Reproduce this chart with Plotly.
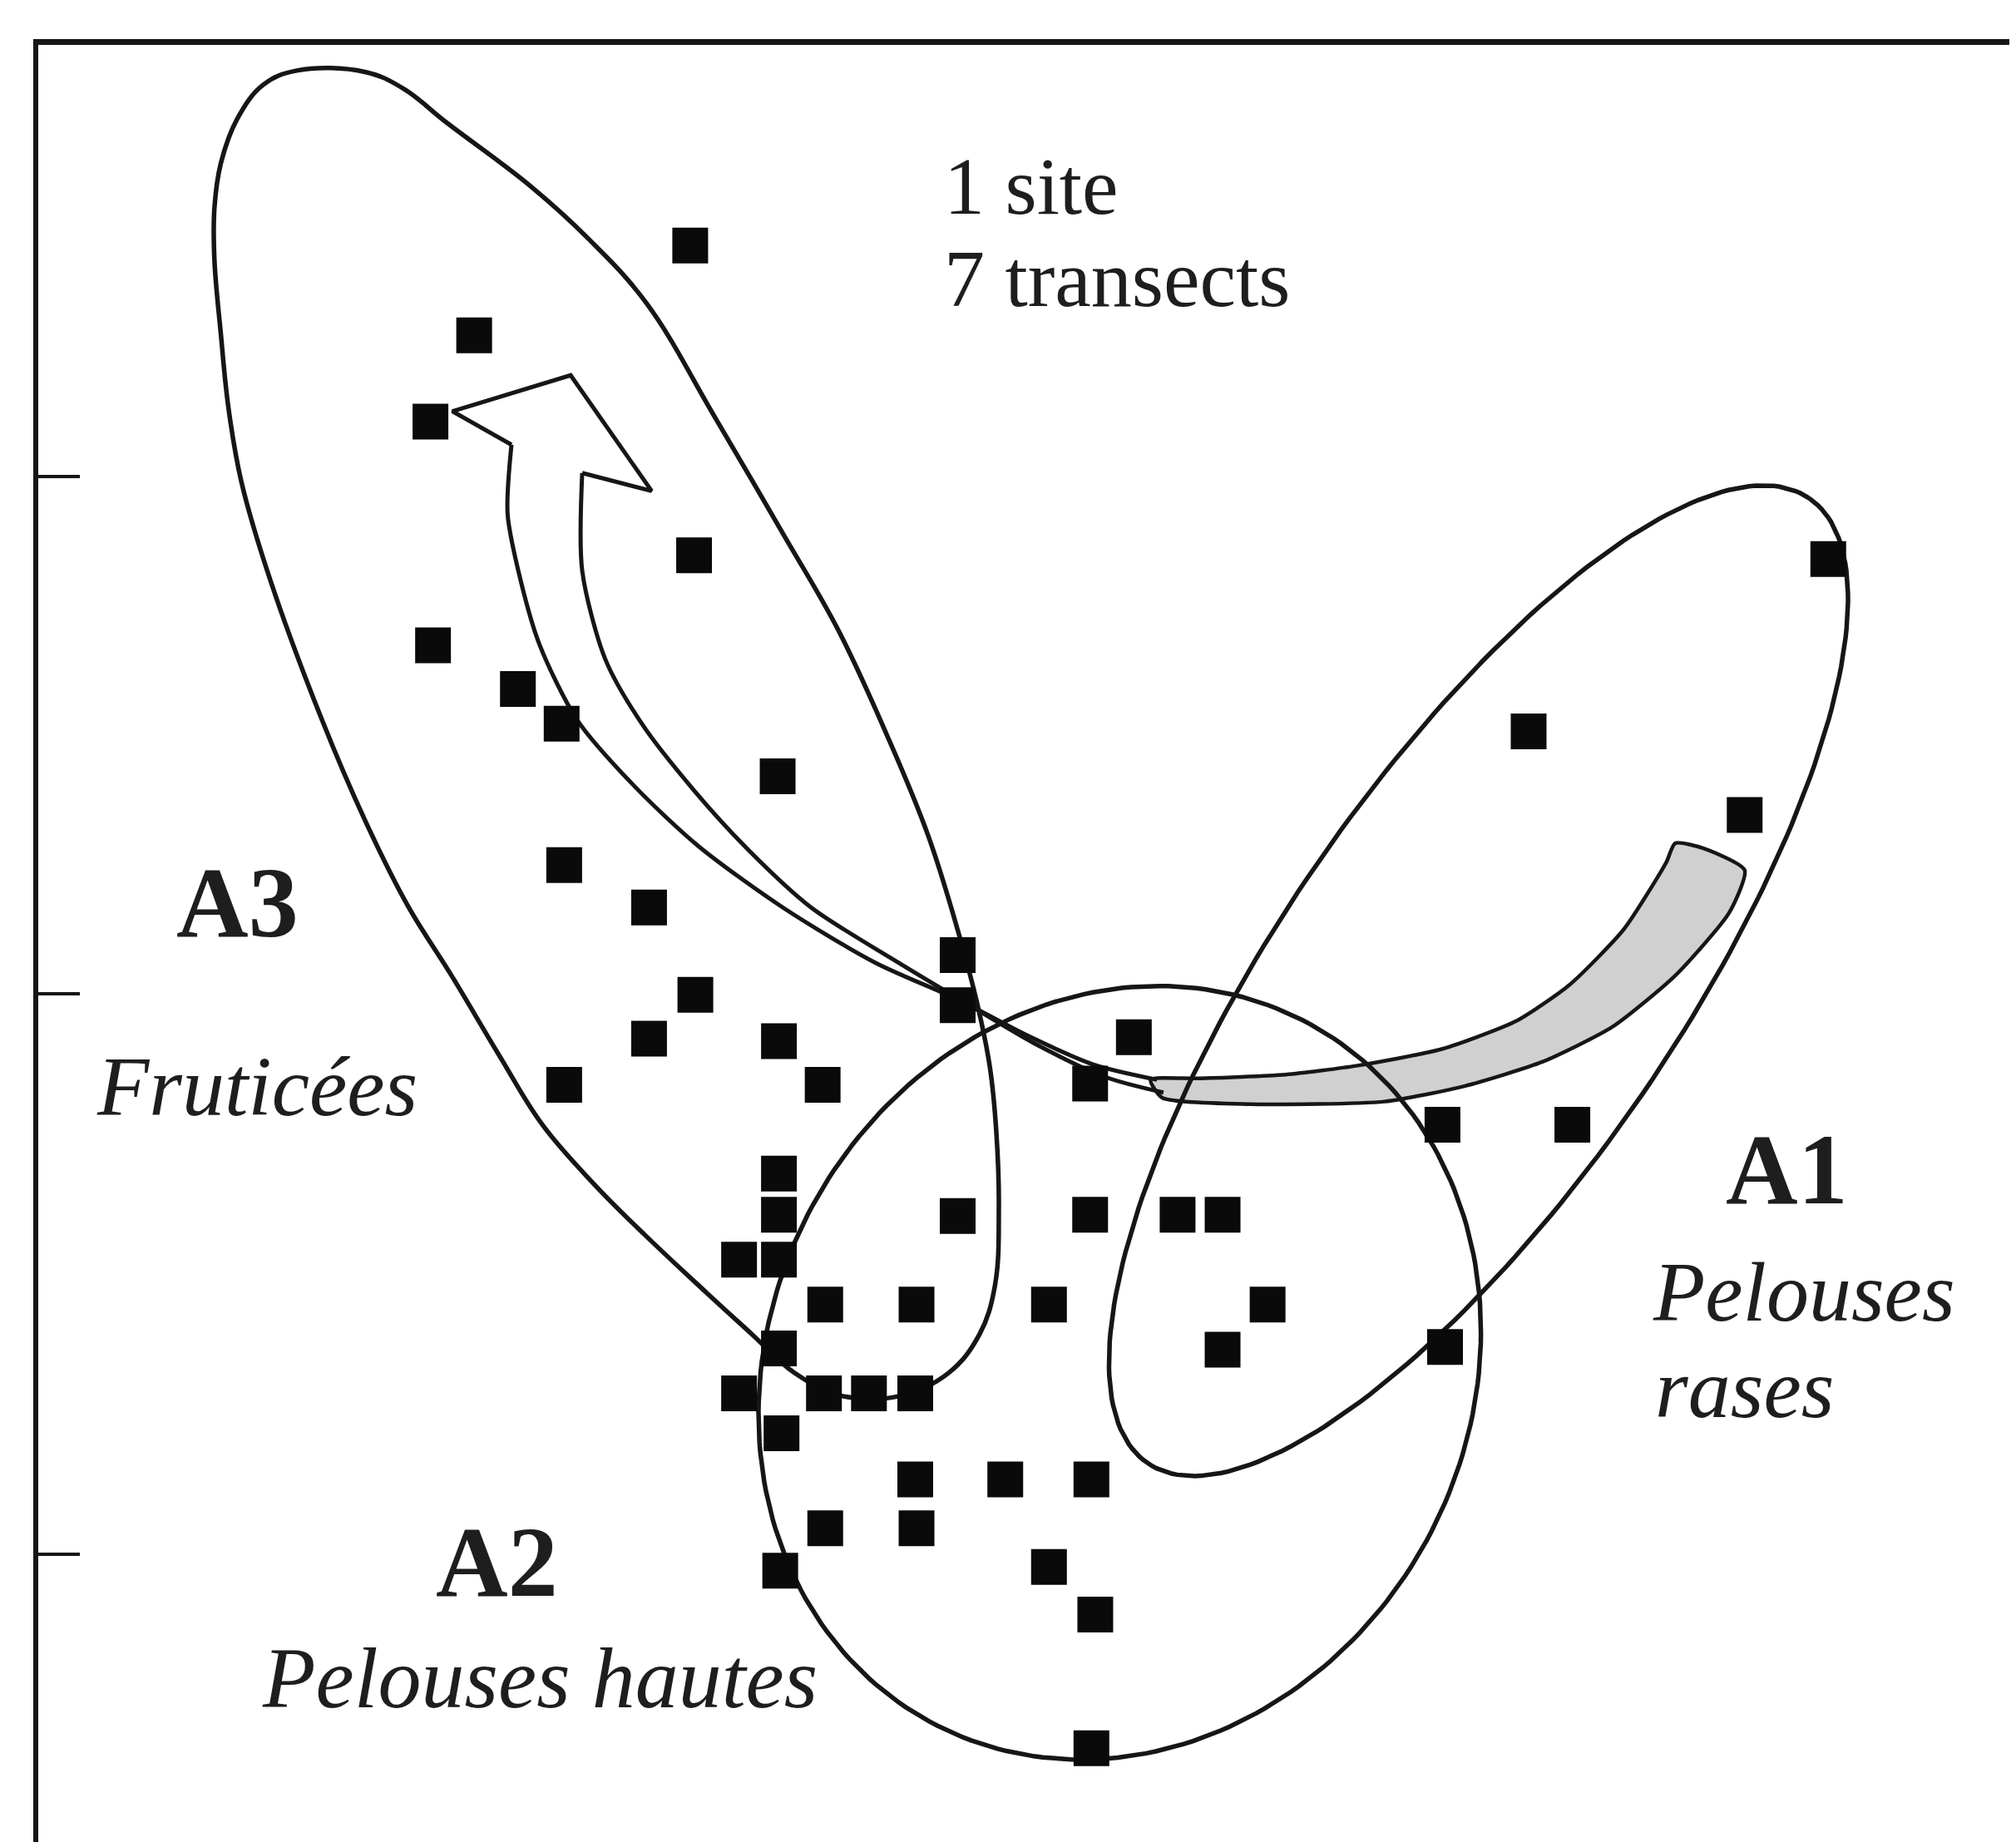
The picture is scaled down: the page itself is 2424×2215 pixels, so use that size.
import numpy as np
import plotly.graph_objects as go

# Relevés (site scores) in the ordination plane, figure units (y grows downward)
rel_x = [537, 369, 335, 540, 337, 403, 437, 605, 439, 505, 541, 505, 439, 606, 640,
         745, 745, 882, 848, 606, 606, 575, 606, 745, 848, 916, 951, 642, 713, 816,
         986, 951, 606, 575, 641, 676, 712, 608, 712, 782, 849, 642, 713, 816, 607,
         852, 849, 1122, 1223, 1124, 1189, 1357, 1422]
rel_y = [191, 261, 328, 432, 502, 536, 563, 604, 673, 706, 774, 808, 844, 810, 844,
         743, 782, 807, 843, 913, 945, 980, 980, 946, 945, 945, 945, 1015, 1015, 1015,
         1015, 1050, 1049, 1084, 1084, 1084, 1084, 1115, 1151, 1151, 1151, 1189, 1189, 1219, 1222,
         1256, 1360, 875, 875, 1048, 569, 634, 435]

# A3 outline (traced)
a3_x = [550, 585, 618, 655, 700, 738, 762, 774, 777, 775, 770, 760, 746, 722, 690, 652,
        609, 557, 503, 458, 413, 347, 314, 284, 231, 205, 185, 172, 167, 167, 172, 178, 188,
        211, 251, 284, 317, 352, 389, 422, 462, 502, 550]
a3_y = [1006, 1038, 1068, 1086, 1086, 1068, 1038, 1000, 940, 880, 830, 780, 727, 650, 572, 490,
        415, 326, 236, 186, 145, 95, 69, 56, 55, 66, 92, 127, 162, 202, 260, 318, 375,
        453, 561, 638, 704, 760, 822, 875, 921, 961, 1006]

# A2 and A1 ellipses: centre, semi-axes, tilt (deg)
a2_ell = dict(cx=871, cy=1068, a=309, b=272, ang=-61.4)
a1_ell = dict(cx=1150, cy=763, a=455, b=155, ang=-55.55)

# Hollow arrow towards A3
shaft_l_x = [900, 850, 800, 746, 681, 609, 543, 493, 449, 420, 405, 395, 398]
shaft_l_y = [840, 828, 806, 778, 749, 706, 658, 611, 560, 502, 451, 400, 346]
shaft_r_x = [905, 860, 805, 754, 699, 631, 583, 540, 500, 471, 453, 453]
shaft_r_y = [850, 838, 812, 782, 749, 706, 662, 615, 564, 513, 444, 368]
head_x = [398, 352, 444, 507, 453]
head_y = [346, 320, 292, 382, 368]

# Grey arrow towards A1
grey_x = [895, 932, 1000, 1056, 1122, 1180, 1221, 1263, 1296, 1303, 1325, 1357,
          1345, 1303, 1254, 1200, 1139, 1077, 973, 904, 895]
grey_y = [840, 839, 836, 829, 816, 794, 766, 723, 671, 656, 660, 677,
          710, 759, 799, 826, 845, 857, 859, 854, 840]

tick_vals = [371, 773, 1209]

INK = "#161616"
SERIF = "Liberation Serif, Times New Roman, serif"
LW = 5.5


def ellipse(cx, cy, a, b, ang):
    t = np.linspace(0, 2 * np.pi, 241)
    th = np.radians(ang)
    ex = cx + a * np.cos(t) * np.cos(th) - b * np.sin(t) * np.sin(th)
    ey = cy + a * np.cos(t) * np.sin(th) + b * np.sin(t) * np.cos(th)
    return ex, ey


fig = go.Figure()

fig.add_trace(go.Scatter(x=grey_x, y=grey_y, mode="lines", fill="toself", fillcolor="#d0d0d0",
                         line=dict(color=INK, width=LW - 1, shape="spline", smoothing=0.6)))

fig.add_trace(go.Scatter(x=a3_x, y=a3_y, mode="lines",
                         line=dict(color=INK, width=LW, shape="spline", smoothing=1.1)))
for ell in (a2_ell, a1_ell):
    ex, ey = ellipse(**ell)
    fig.add_trace(go.Scatter(x=ex, y=ey, mode="lines", line=dict(color=INK, width=LW)))

for sx, sy in [(shaft_l_x, shaft_l_y), (shaft_r_x, shaft_r_y)]:
    fig.add_trace(go.Scatter(x=sx, y=sy, mode="lines",
                             line=dict(color=INK, width=LW - 0.5, shape="spline", smoothing=0.8)))
fig.add_trace(go.Scatter(x=head_x, y=head_y, mode="lines", line=dict(color=INK, width=LW - 0.5)))

fig.add_trace(go.Scatter(x=rel_x, y=rel_y, mode="markers",
                         marker=dict(symbol="square", size=43, color="#0a0a0a")))

labels = [
    ("1 site", 733, 145, "left", "normal", "normal", 98),
    ("7 transects", 733, 217, "left", "normal", "normal", 98),
    ("A3", 185, 702, "center", "bold", "normal", 120),
    ("Fruticées", 74, 845, "left", "normal", "italic", 102),
    ("A2", 387, 1215, "center", "bold", "normal", 120),
    ("Pelouses hautes", 203, 1305, "left", "normal", "italic", 104),
    ("A1", 1390, 910, "center", "bold", "normal", 120),
    ("Pelouses", 1284, 1005, "left", "normal", "italic", 102),
    ("rases", 1286, 1080, "left", "normal", "italic", 102),
]
for txt, lx, ly, anchor, weight, style, size in labels:
    fig.add_annotation(x=lx, y=ly, text=txt, showarrow=False, xanchor=anchor, yanchor="middle",
                       font=dict(family=SERIF, size=size, color="#1e1e1e", weight=weight, style=style))

fig.update_layout(
    width=2416, height=2207,
    margin=dict(l=38, r=0, t=46, b=0),
    plot_bgcolor="white", paper_bgcolor="white",
    showlegend=False,
    xaxis=dict(range=[30, 1568], side="top", showline=True, linecolor=INK, linewidth=7,
               showgrid=False, zeroline=False, ticks="", showticklabels=False),
    yaxis=dict(range=[1433, 35], showline=True, linecolor=INK, linewidth=6,
               showgrid=False, zeroline=False, ticks="inside", tickvals=tick_vals,
               ticklen=50, tickwidth=4, tickcolor=INK, showticklabels=False),
)

fig.write_html("out.html")
